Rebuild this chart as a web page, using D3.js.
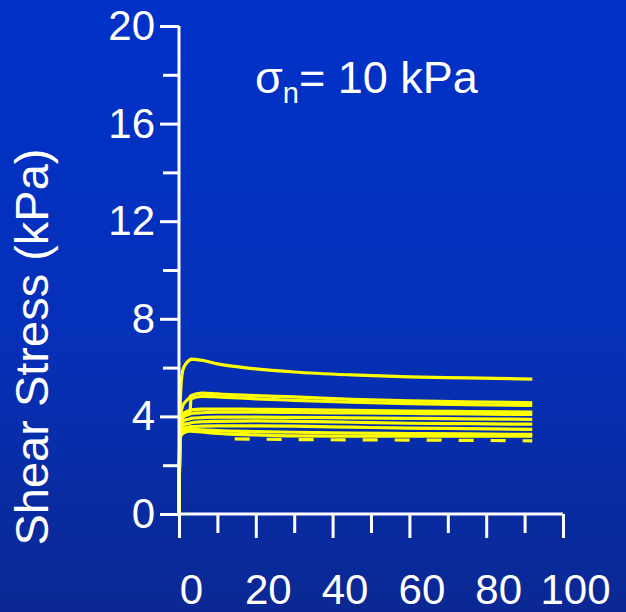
<!DOCTYPE html>
<html><head><meta charset="utf-8">
<script src="https://cdn.jsdelivr.net/npm/d3@7"></script>
<style>html,body{margin:0;padding:0;background:#0030c6;}svg{display:block;}</style>
</head><body>
<svg id="c" width="626" height="612"></svg>
<script>
// ---- data ----
const xDisp = [0, 0.2, 0.5, 1, 2, 2.9, 3.1, 6, 10, 20, 30, 45, 60, 75, 92];
const curve1 = [0, 3.6, 5.2, 5.9, 6.2, 6.33, 6.35, 6.3, 6.15, 5.95, 5.82, 5.7, 5.62, 5.58, 5.53];
const curve2 = [0, 3.4, 4.1, 4.45, 4.65, 4.8, 4.85, 4.95, 4.92, 4.85, 4.8, 4.7, 4.64, 4.6, 4.56];
const curve3 = [0, 3.3, 3.9, 4.1, 4.18, 4.2, 4.72, 4.82, 4.8, 4.72, 4.66, 4.58, 4.52, 4.48, 4.45];
const curve4 = [0, 3.3, 3.8, 4.05, 4.2, 4.25, 4.27, 4.3, 4.3, 4.29, 4.28, 4.25, 4.22, 4.2, 4.18];
const curve5 = [0, 3.25, 3.7, 3.95, 4.05, 4.1, 4.12, 4.15, 4.17, 4.17, 4.16, 4.14, 4.12, 4.1, 4.08];
const curve6 = [0, 3.2, 3.6, 3.8, 3.87, 3.9, 3.92, 3.95, 3.97, 3.97, 3.96, 3.94, 3.92, 3.9, 3.88];
const curve7 = [0, 3.2, 3.5, 3.65, 3.7, 3.72, 3.74, 3.78, 3.8, 3.82, 3.8, 3.76, 3.72, 3.7, 3.68];
const curve8 = [0, 3.15, 3.4, 3.5, 3.55, 3.57, 3.58, 3.6, 3.61, 3.61, 3.6, 3.56, 3.52, 3.5, 3.47];
const curve9 = [0, 3.1, 3.3, 3.4, 3.45, 3.47, 3.48, 3.45, 3.42, 3.38, 3.35, 3.32, 3.3, 3.28, 3.26];
const curve10 = [0, 3.05, 3.2, 3.3, 3.38, 3.4, 3.4, 3.36, 3.3, 3.24, 3.2, 3.19, 3.19, 3.19, 3.19];
const dashedX = [14.5, 30, 45, 60, 75, 92];
const dashedY = [3.08, 3.05, 3.04, 3.03, 3.02, 3.0];
const yTicks = [0, 4, 8, 12, 16, 20];
const yMinor = [2, 6, 10, 14, 18];
const xTicks = [0, 20, 40, 60, 80, 100];
const xMinor = [10, 30, 50, 70, 90];

const svg = d3.select("#c");
const W = 626, H = 612;
const defs = svg.append("defs");
const g = defs.append("linearGradient").attr("id","bg").attr("x1",0).attr("y1",0).attr("x2",0).attr("y2",1);
g.append("stop").attr("offset","0%").attr("stop-color","#0031c8");
g.append("stop").attr("offset","55%").attr("stop-color","#0530b8");
g.append("stop").attr("offset","100%").attr("stop-color","#0b2893");
svg.append("rect").attr("width",W).attr("height",H).attr("fill","url(#bg)");

const x = d3.scaleLinear().domain([0,100]).range([179,563]);
const y = d3.scaleLinear().domain([0,20]).range([514,26]);
const FONT = "'Liberation Sans', Arial, sans-serif";

// curves
const line = d3.line().x((d,i)=>x(xDisp[i])).y(d=>y(d)).curve(d3.curveMonotoneX);
const curves = [curve10, curve9, curve8, curve7, curve6, curve5, curve4, curve3, curve2, curve1];
svg.append("g").selectAll("path").data(curves).join("path")
  .attr("d", d=>line(d)).attr("fill","none").attr("stroke","#ffff00")
  .attr("stroke-width",3.2).attr("stroke-linejoin","round");
const dline = d3.line().x((d,i)=>x(dashedX[i])).y(d=>y(d));
svg.append("path").attr("d", dline(dashedY)).attr("fill","none")
  .attr("stroke","#ffff00").attr("stroke-width",3.2).attr("stroke-dasharray","15,17");

// y axis
const yAx = svg.append("g").attr("transform","translate(179,0)")
  .call(d3.axisLeft(y).tickValues(yTicks).tickSize(19).tickPadding(5).tickFormat(d3.format("d")));
const yAxMinor = svg.append("g").attr("transform","translate(179,0)")
  .call(d3.axisLeft(y).tickValues(yMinor).tickSize(16).tickFormat(""));
// x axis
const xAx = svg.append("g").attr("transform","translate(0,514)")
  .call(d3.axisBottom(x).tickValues(xTicks).tickSize(24).tickPadding(36).tickFormat(d3.format("d")));
const xAxMinor = svg.append("g").attr("transform","translate(0,514)")
  .call(d3.axisBottom(x).tickValues(xMinor).tickSize(19).tickFormat(""));
[yAx,yAxMinor,xAx,xAxMinor].forEach(a=>{
  a.select(".domain").attr("stroke","#fff").attr("stroke-width",3);
  a.selectAll(".tick line").attr("stroke","#fff").attr("stroke-width",3);
  a.selectAll("text").attr("fill","#fff").style("font-family",FONT).style("font-size","42px");
});
yAxMinor.select(".domain").remove(); xAxMinor.select(".domain").remove();
yAx.select(".domain").attr("d","M0,26V514");
xAx.select(".domain").attr("d","M179,0H563");
xAx.selectAll("text").attr("dx","12");

// y title
svg.append("text").attr("transform","translate(48,347) rotate(-90)")
  .attr("text-anchor","middle").attr("fill","#fff")
  .style("font-family",FONT).style("font-size","47px").text("Shear Stress (kPa)");

// panel label
const t = svg.append("text").attr("x",255).attr("y",93).attr("fill","#fff")
  .style("font-family",FONT).style("font-size","45px");
t.append("tspan").text("σ");
t.append("tspan").attr("dy",10).style("font-size","29px").text("n");
t.append("tspan").attr("dy",-10).text("= 10 kPa");
</script>
</body></html>
